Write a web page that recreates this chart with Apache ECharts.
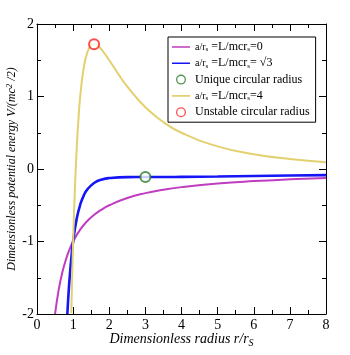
<!DOCTYPE html>
<html>
<head>
<meta charset="utf-8">
<script src="https://cdn.jsdelivr.net/npm/echarts@6/dist/echarts.min.js"></script>
<style>
  html, body { margin: 0; padding: 0; background: #fff; }
  #chart { width: 350px; height: 355px; }
</style>
</head>
<body>
<div id="chart"></div>
<script>
// values
const xTicks = [0, 1, 2, 3, 4, 5, 6, 7, 8];
const yTicks = [-2, -1, 0, 1, 2];

// a = 0
const rZero = [0.5, 0.6, 0.7, 0.8, 0.9, 1.0, 1.2, 1.4, 1.6, 1.8, 2, 2.5, 3, 3.5, 4, 5, 6, 7, 8];
const vZero = [-2, -1.667, -1.429, -1.25, -1.111, -1, -0.833, -0.714, -0.625, -0.556, -0.5, -0.4, -0.333, -0.286, -0.25, -0.2, -0.167, -0.143, -0.125];

// a = sqrt(3)
const rSqrt3 = [0.84, 0.86, 0.88, 0.9, 0.95, 1.0, 1.1, 1.2, 1.3, 1.4, 1.6, 1.8, 2, 2.5, 3, 3.5, 4, 5, 6, 7, 8];
const vSqrt3 = [-2.0, -1.823, -1.664, -1.523, -1.228, -1, -0.684, -0.486, -0.36, -0.277, -0.186, -0.144, -0.125, -0.112, -0.111, -0.111, -0.109, -0.104, -0.097, -0.09, -0.084];

// a = 4
const rFour = [0.95, 0.97, 1.0, 1.05, 1.1, 1.15, 1.2, 1.3, 1.4, 1.5, 1.6, 1.7, 1.8, 2.0, 2.25, 2.5, 3, 3.5, 4, 5, 6, 7, 8];
const vFour = [-1.99, -1.557, -1, -0.261, 0.293, 0.708, 1.019, 1.415, 1.618, 1.704, 1.719, 1.691, 1.639, 1.5, 1.311, 1.136, 0.852, 0.647, 0.5, 0.312, 0.204, 0.137, 0.094];

// circular radii
const uniquePt = [3, -0.111];
const unstablePt = [1.58, 1.72];

const zip = (xs, ys) => xs.map((x, i) => [x, ys[i]]);

const serif = 'Liberation Serif';
const legendRich = {
  n: { fontFamily: serif, fontSize: 10, color: '#000' },
  b: { fontFamily: serif, fontSize: 12, color: '#000' },
  s: { fontFamily: serif, fontSize: 7, color: '#000', verticalAlign: 'bottom', padding: [5, 0, 0, 0] }
};

const names = {
  zero: '{n|a/r}{s|s}{b| =L/mcr}{s|s}{b|=0}',
  sqrt3: '{n|a/r}{s|s}{b| =L/mcr}{s|s}{b|= √3}',
  unique: '{b|Unique circular radius}',
  four: '{n|a/r}{s|s}{b| =L/mcr}{s|s}{b|=4}',
  unstable: '{b|Unstable circular radius}'
};

// legend icons; corner dots fix the icon box so the shapes keep their size
const box = 'M0,0L0.01,0L0,0.01Z M17.99,14L18,14L18,13.99Z ';
const lineIcon = 'path://' + box + 'M0,6.2L18,6.2L18,7.8L0,7.8Z';
const ringIcon = 'path://' + box +
  'M14,7A5,5 0 1 1 4,7A5,5 0 1 1 14,7Z M12.7,7A3.7,3.7 0 1 0 5.3,7A3.7,3.7 0 1 0 12.7,7Z';

const chart = echarts.init(document.getElementById('chart'));

const baseX = {
  type: 'value', min: 0, max: 8, interval: 1,
  axisLine: { show: true, onZero: false, lineStyle: { color: '#000', width: 1 } },
  axisTick: { show: true, inside: true, length: 7, lineStyle: { color: '#000' } },
  minorTick: { show: true, splitNumber: 2, length: 4, lineStyle: { color: '#000' } },
  splitLine: { show: false }
};
const baseY = {
  type: 'value', min: -2, max: 2, interval: 1,
  axisLine: { show: true, onZero: false, lineStyle: { color: '#000', width: 1 } },
  axisTick: { show: true, inside: true, length: 7, lineStyle: { color: '#000' } },
  minorTick: { show: true, splitNumber: 2, length: 4, lineStyle: { color: '#000' } },
  splitLine: { show: false }
};

const option = {
  animation: false,
  backgroundColor: '#fff',
  grid: { left: 37, right: 24, top: 24, bottom: 41, outerBoundsMode: 'none', containLabel: false },
  xAxis: [
    Object.assign({}, baseX, {
      position: 'bottom',
      axisLabel: { fontFamily: serif, fontSize: 14, color: '#000', margin: 4,
        formatter: v => xTicks.includes(v) ? String(v) : '' },
      name: '{i|Dimensionless radius r/r}{s|S}',
      nameLocation: 'middle', nameGap: 16, nameMoveOverlap: false,
      nameTextStyle: {
        rich: {
          i: { fontFamily: serif, fontStyle: 'italic', fontSize: 14, color: '#000' },
          s: { fontFamily: serif, fontStyle: 'italic', fontSize: 10, color: '#000', verticalAlign: 'bottom', padding: [8, 0, 0, 0] }
        }
      }
    }),
    Object.assign({}, baseX, { position: 'top', axisLabel: { show: false } })
  ],
  yAxis: [
    Object.assign({}, baseY, {
      position: 'left',
      axisLabel: { fontFamily: serif, fontSize: 14, color: '#000', margin: 3,
        formatter: v => yTicks.includes(v) ? String(v) : '' },
      name: '{i|Dimensionless potential energy V/(mc}{p|2}{i| /2)}',
      nameLocation: 'middle', nameGap: 18, nameRotate: 90, nameMoveOverlap: false,
      nameTextStyle: {
        rich: {
          i: { fontFamily: serif, fontStyle: 'italic', fontSize: 12, color: '#000' },
          p: { fontFamily: serif, fontStyle: 'italic', fontSize: 9, color: '#000', verticalAlign: 'top', padding: [0, 0, 5, 0] }
        }
      }
    }),
    Object.assign({}, baseY, { position: 'right', axisLabel: { show: false } })
  ],
  legend: {
    left: 168, top: 37, orient: 'vertical',
    backgroundColor: '#fff',
    borderColor: '#000', borderWidth: 1, borderRadius: 0,
    padding: [3, 6, 3, 4], itemGap: 2.3,
    itemWidth: 18, itemHeight: 14,
    textStyle: { rich: legendRich },
    data: [
      { name: names.zero, icon: lineIcon },
      { name: names.sqrt3, icon: lineIcon },
      { name: names.unique, icon: ringIcon, itemStyle: { color: '#2a7a2a', borderWidth: 0 } },
      { name: names.four, icon: lineIcon },
      { name: names.unstable, icon: ringIcon, itemStyle: { color: '#ff2020', borderWidth: 0 } }
    ]
  },
  series: [
    {
      name: names.zero, type: 'line', smooth: true, symbol: 'none', clip: true,
      lineStyle: { color: '#c03cc0', width: 2 }, itemStyle: { color: '#c03cc0' },
      data: zip(rZero, vZero)
    },
    {
      name: names.sqrt3, type: 'line', smooth: true, symbol: 'none', clip: true,
      lineStyle: { color: '#1515f5', width: 2.6 }, itemStyle: { color: '#1515f5' },
      data: zip(rSqrt3, vSqrt3)
    },
    {
      name: names.four, type: 'line', smooth: true, symbol: 'none', clip: true,
      lineStyle: { color: '#e3d06f', width: 2 }, itemStyle: { color: '#e3d06f' },
      data: zip(rFour, vFour)
    },
    {
      name: names.unique, type: 'scatter', symbol: 'emptyCircle', symbolSize: 10,
      itemStyle: { color: '#2a7a2a', borderWidth: 1.3 },
      data: [uniquePt], z: 5
    },
    {
      name: names.unstable, type: 'scatter', symbol: 'emptyCircle', symbolSize: 10,
      itemStyle: { color: '#ff2020', borderWidth: 1.3 },
      data: [unstablePt], z: 5
    }
  ]
};

chart.setOption(option);
</script>
</body>
</html>
